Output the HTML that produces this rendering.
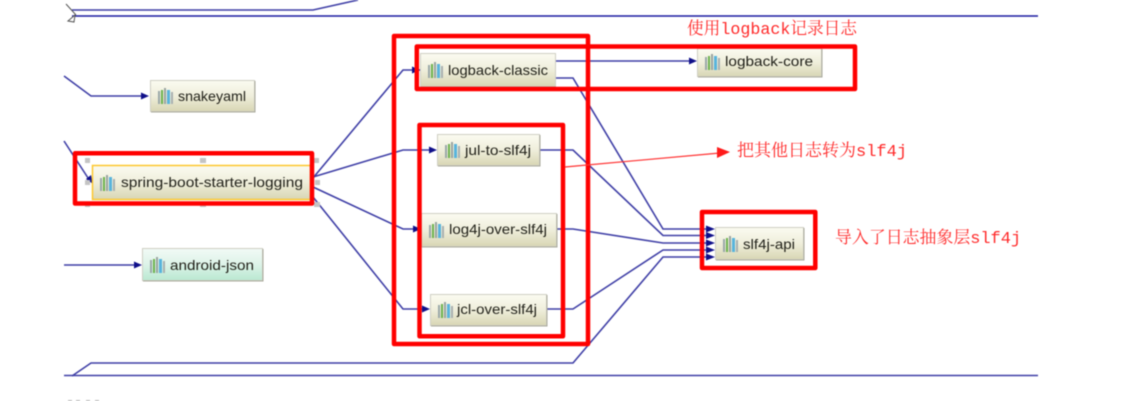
<!DOCTYPE html>
<html><head><meta charset="utf-8"><style>
html,body{margin:0;padding:0;background:#fff;width:1124px;height:401px;overflow:hidden}
svg{display:block;filter:blur(.4px)}
.n{font-family:"Liberation Sans",sans-serif;font-size:14px;fill:#22221a}
.r{font-family:"Liberation Mono","Noto Serif CJK SC",monospace;font-size:17px;fill:#ff2a2a}
</style></head><body>
<svg width="1124" height="401" viewBox="0 0 1124 401" xmlns="http://www.w3.org/2000/svg">
<defs>
<linearGradient id="g" x1="0" y1="0" x2="0" y2="1"><stop offset="0" stop-color="#fbfbf1"/><stop offset=".5" stop-color="#efeedb"/><stop offset="1" stop-color="#d8d6b4"/></linearGradient>
<linearGradient id="a" x1="0" y1="0" x2="0" y2="1"><stop offset="0" stop-color="#f2faf6"/><stop offset=".5" stop-color="#ddf3e8"/><stop offset="1" stop-color="#b9e8d1"/></linearGradient>
<g id="i">
<rect x="0" y="3" width="2" height="13" fill="#9aa8a8"/>
<rect x="3" y="2" width="2" height="14" fill="#6db24f"/>
<rect x="6" y="0" width="2" height="16" fill="#9aa4a0"/>
<rect x="9" y="2" width="3" height="14" fill="#58b4dc"/>
<rect x="13" y="4" width="2" height="12" fill="#a8b0b0"/>
</g>
</defs>

<!-- top / bottom lines -->
<g fill="none" stroke="#3f3fa6" stroke-width="1.6">
<path d="M72 10H313L358 0"/>
<path d="M72 376L91 363H573L663 257H706"/>
<path d="M64 375.500H1038"/>
<path d="M64 76L91 96H142"/>
<path d="M64 141L90 181"/>
<path d="M64 265H135"/>
<path d="M313 178L403 70H420"/>
<path d="M313 177L403 150H430"/>
<path d="M313 187L403 229H414"/>
<path d="M313 197L403 309H423"/>
<path d="M556 61H690"/>
<path d="M556 78H573L663 229H706"/>
<path d="M540 150H573L663 235.500H706"/>
<path d="M556 229H573L663 243H706"/>
<path d="M547 309H573L663 250H706"/>
</g>
<path d="M72 16H1038" stroke="#1a1aa0" stroke-width="1.5" fill="none"/>
<path d="M66 4L76 15M68 21L75 15L74 22Z" stroke="#555" stroke-width="1" fill="#fff"/>

<!-- arrowheads -->
<g fill="#10108a">
<path d="M149 96L141 92.500V99.500Z"/>
<path d="M93 184L86 179L91 175Z"/>
<path d="M142 265L134 261.500V268.500Z"/>
<path d="M420 70L412 66.500V73.500Z"/>
<path d="M437 150L429 146.500V153.500Z"/>
<path d="M421 229L413 225.500V232.500Z"/>
<path d="M430 309L422 305.500V312.500Z"/>
<path d="M697 61L689 57.500V64.500Z"/>
<path d="M715 229L706 225.500V232.500Z"/>
<path d="M715 235.500L706 232V239Z"/>
<path d="M715 243L706 239.500V246.500Z"/>
<path d="M715 250L706 246.500V253.500Z"/>
<path d="M715 257L706 253.500V260.500Z"/>
</g>

<!-- selection handles -->
<g fill="#c4c4c4">
<rect x="85" y="158" width="5" height="5"/><rect x="200" y="158" width="6" height="5"/><rect x="313" y="158" width="6" height="5"/>
<rect x="85" y="180" width="5" height="5"/><rect x="315" y="180" width="5" height="5"/>
<rect x="85" y="204" width="5" height="3"/><rect x="200" y="204" width="6" height="3"/><rect x="314" y="202" width="6" height="5"/>
</g>

<!-- nodes -->
<g stroke="#cfcfc4" stroke-width="1">
<rect x="150.500" y="80.500" width="104" height="31" fill="url(#g)"/>
<rect x="142.500" y="248.500" width="120" height="32" fill="url(#a)"/>
<rect x="420.500" y="53.500" width="135" height="33" fill="url(#g)"/>
<rect x="437.500" y="134.500" width="102" height="31" fill="url(#g)"/>
<rect x="421.500" y="213.500" width="135" height="33" fill="url(#g)"/>
<rect x="430.500" y="294.500" width="116" height="31" fill="url(#g)"/>
<rect x="697.500" y="48.500" width="124" height="28" fill="url(#g)"/>
<rect x="715.500" y="227.500" width="88" height="32" fill="url(#g)"/>
</g>
<g stroke="#a9a99c" stroke-width="1" fill="none">
<path d="M151 112H255V81"/><path d="M143 281H263V249"/><path d="M421 87H556"/><path d="M438 166H540V135"/><path d="M422 247H557V214"/><path d="M431 326H547V295"/><path d="M698 77H822V49"/><path d="M716 260H804V228"/>
</g>
<rect x="92.500" y="165.500" width="218" height="34" fill="url(#g)" stroke="#fdc72e" stroke-width="1.500"/>

<!-- icons -->
<use href="#i" x="158" y="88"/>
<use href="#i" x="100" y="175"/>
<use href="#i" x="150" y="257"/>
<use href="#i" x="428" y="62"/>
<use href="#i" x="445" y="142"/>
<use href="#i" x="429" y="222"/>
<use href="#i" x="438" y="302"/>
<use href="#i" x="705" y="54"/>
<use href="#i" x="723" y="236"/>

<!-- node labels -->
<text class="n" x="178" y="101" textLength="68" lengthAdjust="spacingAndGlyphs">snakeyaml</text>
<text class="n" x="121" y="187" textLength="182" lengthAdjust="spacingAndGlyphs">spring-boot-starter-logging</text>
<text class="n" x="170" y="270" textLength="84" lengthAdjust="spacingAndGlyphs">android-json</text>
<text class="n" x="448" y="75" textLength="100" lengthAdjust="spacingAndGlyphs">logback-classic</text>
<text class="n" x="465" y="155" textLength="66" lengthAdjust="spacingAndGlyphs">jul-to-slf4j</text>
<text class="n" x="449" y="234" textLength="98" lengthAdjust="spacingAndGlyphs">log4j-over-slf4j</text>
<text class="n" x="457" y="314" textLength="80" lengthAdjust="spacingAndGlyphs">jcl-over-slf4j</text>
<text class="n" x="725" y="66" textLength="88" lengthAdjust="spacingAndGlyphs">logback-core</text>
<text class="n" x="743" y="249" textLength="52" lengthAdjust="spacingAndGlyphs">slf4j-api</text>

<!-- red annotation boxes -->
<g fill="none" stroke="#ff0000" stroke-width="4.500" stroke-linejoin="round">
<rect x="394" y="36" width="194" height="308"/>
<rect x="416.800" y="46.500" width="438.200" height="42.500"/>
<rect x="419.500" y="125" width="143.500" height="211.300"/>
<rect x="75" y="153.300" width="237" height="50.200"/>
<rect x="702" y="212" width="113.300" height="56"/>
</g>
<path d="M565 167L720 153" stroke="#ff3030" stroke-width="1.200" fill="none"/>
<path d="M730 152L717 147V158Z" fill="#ff1a1a"/>

<!-- annotation text -->
<text class="r" x="687" y="34" textLength="170" lengthAdjust="spacingAndGlyphs">使用logback记录日志</text>
<text class="r" x="737" y="156" textLength="170" lengthAdjust="spacingAndGlyphs">把其他日志转为slf4j</text>
<text class="r" x="835" y="243" textLength="186" lengthAdjust="spacingAndGlyphs">导入了日志抽象层slf4j</text>
<g fill="#b5b5b5"><rect x="68" y="400" width="4" height="1"/><rect x="76" y="400" width="4" height="1"/><rect x="86" y="400" width="4" height="1"/><rect x="95" y="400" width="4" height="1"/></g>
</svg>
</body></html>
